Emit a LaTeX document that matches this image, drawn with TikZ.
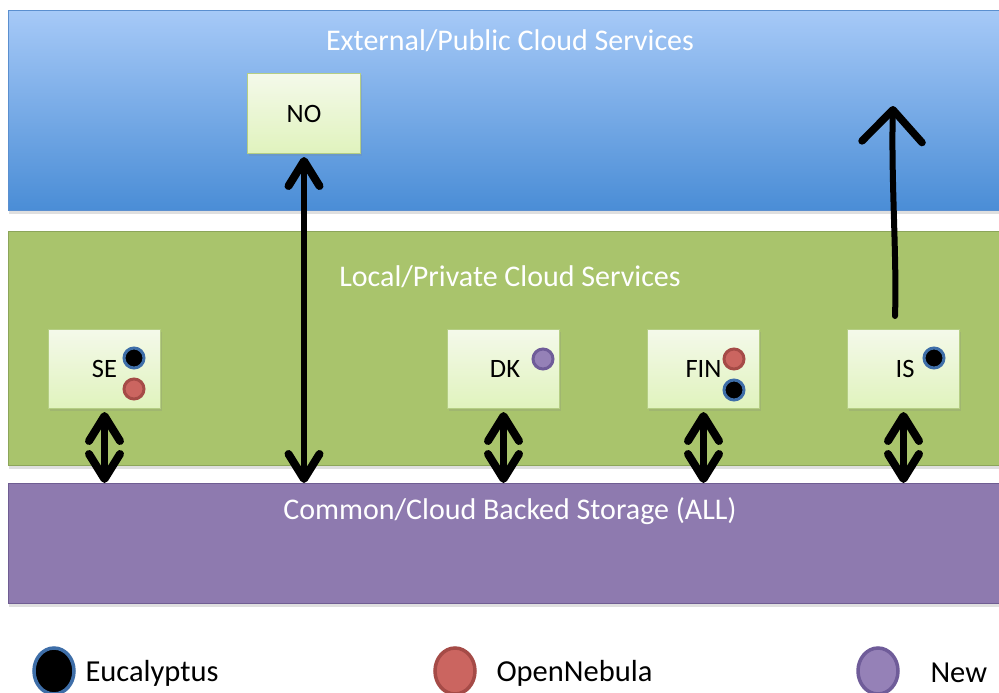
\documentclass[tikz,border=0pt]{standalone}
\usepackage{fontspec}
\setmainfont{Carlito}
\usetikzlibrary{arrows.meta,shadows,shapes.geometric}

\definecolor{blueTop}{HTML}{A6C9F7}
\definecolor{blueBot}{HTML}{4A8DD6}
\definecolor{blueEdge}{HTML}{5B8FCF}
\definecolor{greenFill}{HTML}{A9C46C}
\definecolor{greenEdge}{HTML}{8CA55A}
\definecolor{purpFill}{HTML}{8E7AAF}
\definecolor{purpEdge}{HTML}{6F5D92}
\definecolor{siteTop}{HTML}{F4F9EA}
\definecolor{siteBot}{HTML}{E0F3BD}
\definecolor{siteEdge}{HTML}{B5CE84}
\definecolor{euEdge}{HTML}{3E6EA8}
\definecolor{onFill}{HTML}{CB6560}
\definecolor{onEdge}{HTML}{A54B47}
\definecolor{newFill}{HTML}{9581B7}
\definecolor{newEdge}{HTML}{6F5C99}

\begin{document}
\begin{tikzpicture}[x=1pt,y=-1pt,
  layer/.style={rectangle, anchor=north west, minimum width=1004pt, inner sep=0pt,
    line width=1pt, drop shadow={opacity=0.25, shadow xshift=0pt, shadow yshift=-3pt}},
  layertitle/.style={text=white, font=\fontsize{30}{34}\selectfont},
  sitebox/.style={rectangle, anchor=north west, minimum width=112pt, minimum height=79pt,
    top color=siteTop, bottom color=siteBot, draw=siteEdge, line width=1pt,
    font=\fontsize{26.5}{28}\selectfont, inner sep=0pt,
    drop shadow={opacity=0.2, shadow xshift=1pt, shadow yshift=-2pt}},
  dot/.style={circle, minimum size=20pt, inner sep=0pt, line width=3pt},
  eu/.style={dot, fill=black, draw=euEdge},
  on/.style={dot, fill=onFill, draw=onEdge},
  nw/.style={dot, fill=newFill, draw=newEdge},
  legmark/.style={ellipse, minimum width=40pt, minimum height=46pt, inner sep=0pt, line width=3.5pt},
  legtext/.style={anchor=west, font=\fontsize{30.5}{34}\selectfont},
  link/.style={line width=6.5pt,
    {Straight Barb[length=25pt, width=31pt, line width=8pt, round]}-{Straight Barb[length=25pt, width=31pt, line width=8pt, round]}},
  sketch/.style={line width=6pt, line cap=round, -{Straight Barb[length=32pt, width=60pt, line width=7.5pt, round]}}
]
\useasboundingbox (0,0) rectangle (999,693);
\fill[white] (0,0) rectangle (999,693);

% three service layers
\node[layer, minimum height=200pt, top color=blueTop, bottom color=blueBot, draw=blueEdge] (ext) at (8,10) {};
\node[layer, minimum height=234pt, fill=greenFill, draw=greenEdge] (loc) at (8,231) {};
\node[layer, minimum height=120pt, fill=purpFill, draw=purpEdge] (sto) at (8,483) {};

\node[layertitle] (extT) at (510,41) {External/Public Cloud Services};
\node[layertitle] (locT) at (510,277) {Local/Private Cloud Services};
\node[layertitle] (stoT) at (510,511) {Common/Cloud Backed Storage (ALL)};

% sites
\node[sitebox, minimum height=80pt, minimum width=113pt] (no) at (247,73) {\raisebox{-3pt}{NO}};
\node[sitebox] (se) at (48,329) {\raisebox{-4pt}{SE}};
\node[sitebox] (dk) at (447,329) {\raisebox{-4pt}{\hspace*{3pt}DK}};
\node[sitebox] (fin) at (647,329) {\raisebox{-4pt}{FIN}};
\node[sitebox] (is) at (847,329) {\raisebox{-4pt}{\hspace*{3pt}IS}};

% middleware markers
\node[eu] (seE) at (134,358) {};
\node[on] (seO) at (134,389) {};
\node[nw] (dkN) at (543,359) {};
\node[on] (finO) at (734,359) {};
\node[eu] (finE) at (734,390) {};
\node[eu] (isE) at (934,358) {};

% links to common storage
\draw[link] ([yshift=-3pt]se.south) -- (se.south |- sto.north);
\draw[link] ([yshift=-3pt]no.south) -- (no.south |- sto.north);
\draw[link] ([yshift=-3pt]dk.south) -- (dk.south |- sto.north);
\draw[link] ([yshift=-3pt]fin.south) -- (fin.south |- sto.north);
\draw[link] ([yshift=-3pt]is.south) -- (is.south |- sto.north);

% outbound link from IS to public services (hand-drawn look)
\coordinate (isFoot) at (895,316);
\coordinate (isTip) at (893,106);
\draw[sketch] (isFoot) .. controls (897,260) and (891,180) .. (isTip);

% legend
\node[legmark, fill=black, draw=euEdge] (lgE) at (54,671) {};
\node[legtext] (lgEt) at (82,673) {Eucalyptus};
\node[legmark, fill=onFill, draw=onEdge] (lgO) at (455,671) {};
\node[legtext] (lgOt) at (493,673) {OpenNebula};
\node[legmark, fill=newFill, draw=newEdge] (lgN) at (878,671) {};
\node[legtext] (lgNt) at (927,673) {New};
\end{tikzpicture}
\end{document}
